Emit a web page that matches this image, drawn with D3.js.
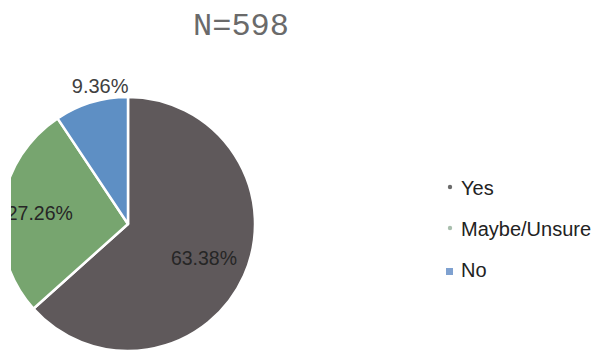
<!DOCTYPE html>
<html><head><meta charset="utf-8">
<script src="https://cdn.jsdelivr.net/npm/d3@7"></script>
<style>html,body{margin:0;padding:0;background:#fff;}svg{display:block;}</style>
</head><body>
<svg id="c" width="596" height="350"></svg>
<script>
const categories = ["Yes", "Maybe/Unsure", "No"];
const values = [63.38, 27.26, 9.36];
const labels = ["63.38%", "27.26%", "9.36%"];
const title = "N=598";

const sliceColors = ["#5f595b", "#77a56f", "#5e8fc4"];
const legendColors = ["#6b6b6b", "#a9bfae", "#7fa1d0"];

const svg = d3.select("#c");
const W = 596, H = 350;
const cx = 128, cy = 224, R = 127;

svg.append("text").attr("x", 241).attr("y", 35)
  .attr("text-anchor", "middle")
  .attr("font-family", "'Liberation Mono','Courier New',monospace")
  .attr("font-size", 32).attr("fill", "#6a6a6a")
  .text(title);

svg.append("defs").append("clipPath").attr("id", "clip")
  .append("rect").attr("x", 11).attr("y", 0).attr("width", W).attr("height", H);

const pie = d3.pie().sort(null).value(d => d);
const arcs = pie(values);
const arc = d3.arc().innerRadius(0).outerRadius(R);
const g = svg.append("g").attr("clip-path", "url(#clip)")
  .append("g").attr("transform", `translate(${cx},${cy})`);

g.selectAll("path").data(arcs).enter().append("path")
  .attr("d", arc)
  .attr("fill", (d, i) => sliceColors[i])
  .attr("stroke", "#ffffff").attr("stroke-width", 2.5).attr("stroke-linejoin", "round");

const labelRadius = [0.655, 0.7, 1.11];
const labelDx = [0, 0, 13];
const labelDy = [0, 0, -3];
g.selectAll("text.lbl").data(arcs).enter().append("text")
  .attr("class", "lbl")
  .attr("transform", (d, i) => {
    const la = d3.arc().innerRadius(R * labelRadius[i]).outerRadius(R * labelRadius[i]);
    const p = la.centroid(d);
    return `translate(${p[0] + labelDx[i]},${p[1] + labelDy[i]})`;
  })
  .attr("text-anchor", "middle")
  .attr("dy", "0.35em")
  .attr("font-family", "'Liberation Sans',Arial,sans-serif")
  .attr("font-size", (d, i) => i === 2 ? 20 : 19.5)
  .attr("fill", (d, i) => i === 2 ? "#404040" : "#262626")
  .text((d, i) => labels[i]);

const lg = svg.append("g");
const ly = d3.scalePoint().domain(categories).range([188, 270]);
categories.forEach((c, i) => {
  const y = ly(c);
  if (i < 2) {
    lg.append("circle").attr("cx", 450).attr("cy", y - 1).attr("r", 2.2).attr("fill", legendColors[i]);
  } else {
    lg.append("rect").attr("x", 446).attr("y", y - 2).attr("width", 7).attr("height", 7).attr("fill", legendColors[i]);
  }
  lg.append("text").attr("x", 461).attr("y", y + 7)
    .attr("font-family", "'Liberation Sans',Arial,sans-serif")
    .attr("font-size", 20).attr("fill", "#222")
    .text(c);
});
</script>
</body></html>
